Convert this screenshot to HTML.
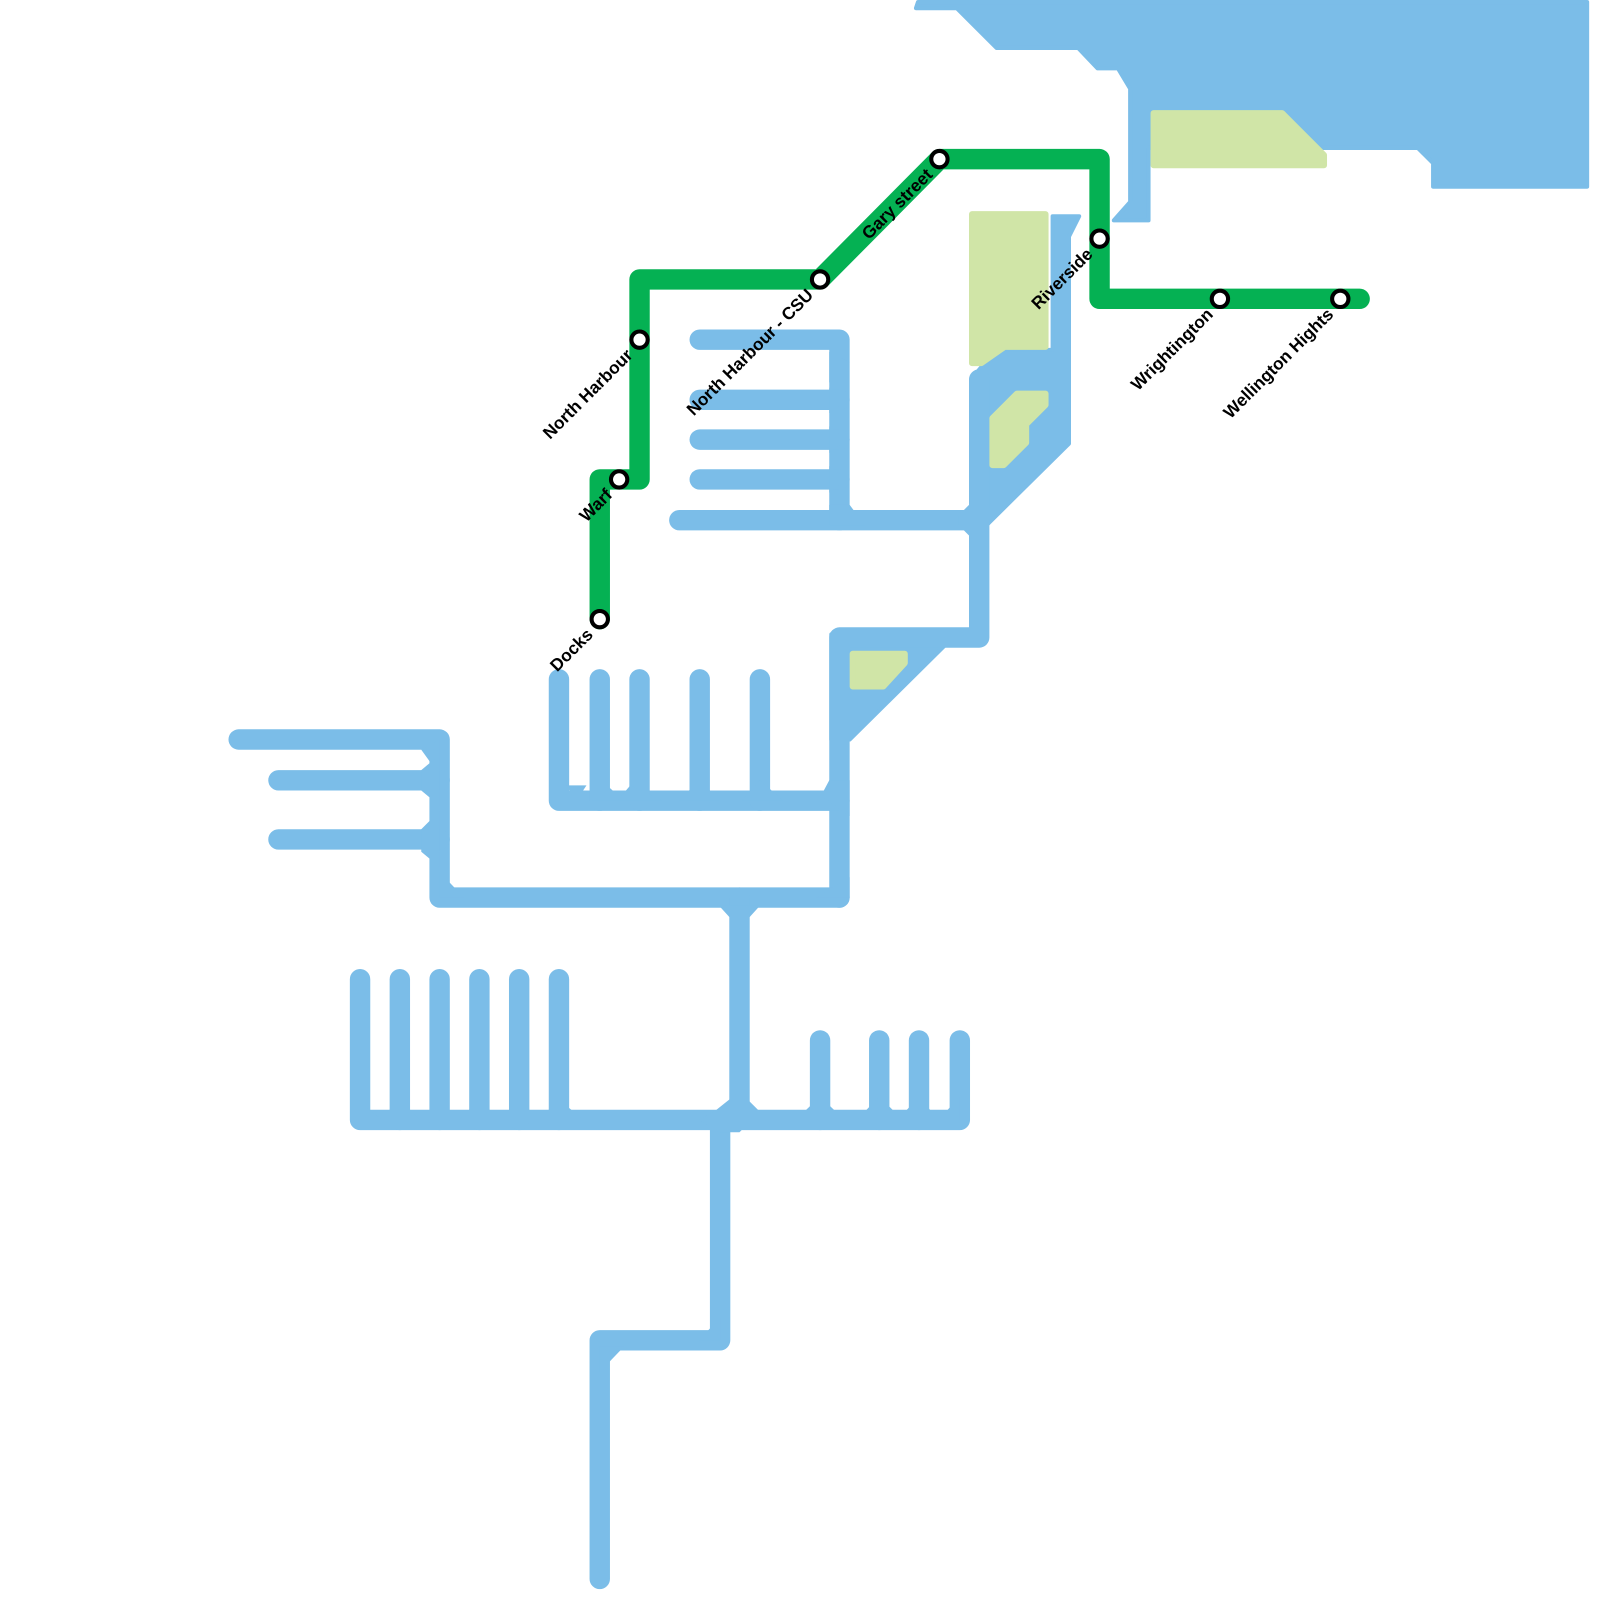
<!DOCTYPE html>
<html><head><meta charset="utf-8"><style>html,body{margin:0;padding:0;background:#fff}svg{display:block}</style></head>
<body>
<svg width="1600" height="1600" viewBox="0 0 1600 1600" xmlns="http://www.w3.org/2000/svg">
<g transform="scale(1.02)">
<g fill="#7bbde8" stroke="#7bbde8" stroke-linejoin="round">
<polygon stroke-width="4" points="900,2 1556,2 1556,183 1405,183 1405,160 1390,145 1126,145 1126,216 1092,216 1108,198 1108,87 1096,67 1076,67 1057,47 977,47 938,8 898,8"/>
<polygon stroke-width="4" points="952,372 962,360 985,343 1032,343 1032,212 1058,212 1048,232 1048,435 962,520 952,520"/>
<polygon stroke-width="4" points="815,622 926,622 926,633 833,725 815,725"/>
</g>
<g fill="none" stroke="#7bbde8" stroke-width="20" stroke-linecap="round" stroke-linejoin="round">
<polyline points="686,333 823,333 823,510"/>
<line x1="686" y1="392" x2="823" y2="392"/>
<line x1="686" y1="431" x2="823" y2="431"/>
<line x1="686" y1="470" x2="823" y2="470"/>
<line x1="666" y1="510" x2="960" y2="510"/>
<polyline points="960,372 960,625 823,625 823,880"/>
<polyline points="548,666 548,785 823,785"/>
<line x1="588" y1="666" x2="588" y2="785"/>
<line x1="627" y1="666" x2="627" y2="785"/>
<line x1="686" y1="666" x2="686" y2="785"/>
<line x1="745" y1="666" x2="745" y2="785"/>
<polyline points="234,725 431,725 431,880 823,880"/>
<line x1="273" y1="765" x2="431" y2="765"/>
<line x1="273" y1="823" x2="431" y2="823"/>
<line x1="725" y1="880" x2="725" y2="1098"/>
<polyline points="353,960 353,1098 941,1098 941,1020"/>
<line x1="392" y1="960" x2="392" y2="1098"/>
<line x1="431" y1="960" x2="431" y2="1098"/>
<line x1="470" y1="960" x2="470" y2="1098"/>
<line x1="509" y1="960" x2="509" y2="1098"/>
<line x1="548" y1="960" x2="548" y2="1098"/>
<line x1="804" y1="1020" x2="804" y2="1098"/>
<line x1="862" y1="1020" x2="862" y2="1098"/>
<line x1="901" y1="1020" x2="901" y2="1098"/>
<polyline points="706,1098 706,1314 588,1314 588,1548"/>
</g>
<g fill="#7bbde8">
<polygon points="813,345 813,375 833,355"/><polygon points="813,380 813,405 830,392"/><polygon points="813,418 813,444 830,431"/><polygon points="813,457 813,483 830,470"/><polygon points="813,495 833,495 848,515 813,515"/>
<polygon points="940,505 960,485 975,505 960,535 940,515"/>
<polygon points="413,735 431,725 431,760"/><polygon points="413,755 431,740 431,790 413,775"/><polygon points="413,813 431,795 431,850 413,835"/><polygon points="431,855 455,880 431,880"/>
<polygon points="813,765 833,765 833,800 805,780"/><polygon points="800,880 833,860 833,880"/>
<polygon points="705,888 745,888 725,910"/><polygon points="700,1090 725,1070 745,1090 725,1110 705,1110 685,1098"/>
<polygon points="685,1314 706,1292 706,1314"/><polygon points="588,1320 612,1320 588,1345"/>
<polygon points="555,770 575,770 565,785"/><polygon points="595,770 612,785 580,785"/><polygon points="618,770 650,785 605,785"/><polygon points="665,785 686,765 706,785"/><polygon points="727,785 745,765 768,785"/>
<polygon points="358,1085 375,1098 358,1098"/><polygon points="372,1098 392,1078 412,1098"/><polygon points="412,1098 431,1078 450,1098"/><polygon points="450,1098 470,1078 490,1098"/><polygon points="490,1098 509,1078 529,1098"/><polygon points="528,1098 548,1078 572,1098"/>
<polygon points="780,1098 804,1075 828,1098"/><polygon points="840,1098 862,1075 885,1098"/><polygon points="880,1098 901,1075 920,1098"/><polygon points="920,1098 941,1075 941,1098"/>
</g>
<g fill="#d0e5a7" stroke="#d0e5a7" stroke-width="6" stroke-linejoin="round">
<polygon points="1131,111 1257,111 1298,152 1298,162 1131,162"/>
<polygon points="953,210 1025,210 1025,340 985,340 962,356 953,356"/>
<polygon points="973,410 997,386 1025,386 1025,397 1006,416 1006,434 984,456 973,456"/>
<polygon points="836,641 887,641 887,650 866,673 836,673"/>
</g>
<polyline fill="none" stroke="#05b153" stroke-width="20" stroke-linecap="round" stroke-linejoin="round" points="588,607 588,470 627,470 627,274 804,274 921,156 1078,156 1078,293 1333,293"/>
<g fill="#fff" stroke="#000" stroke-width="4">
<circle cx="588" cy="607" r="8"/><circle cx="607" cy="470" r="8"/><circle cx="627" cy="333" r="8"/><circle cx="804" cy="274" r="8"/><circle cx="921" cy="156" r="8"/><circle cx="1078" cy="234" r="8"/><circle cx="1196" cy="293" r="8"/><circle cx="1314" cy="293" r="8"/>
</g>
<g font-family="Liberation Sans, sans-serif" font-weight="bold" font-size="17" text-anchor="end" fill="#000">
<text transform="translate(578,619) rotate(-45)" dy="6">Docks</text>
<text transform="translate(597,482) rotate(-45)" dy="6">Warf</text>
<text transform="translate(617,345) rotate(-45)" dy="6">North Harbour</text>
<text transform="translate(794,286) rotate(-45)" dy="6">North Harbour - CSU</text>
<text transform="translate(911,168) rotate(-45)" dy="6">Gary street</text>
<text transform="translate(1068,246) rotate(-45)" dy="6">Riverside</text>
<text transform="translate(1186,305) rotate(-45)" dy="6">Wrightington</text>
<text transform="translate(1304,305) rotate(-45)" dy="6">Wellington Hights</text>
</g>
</g>
</svg>
</body></html>
